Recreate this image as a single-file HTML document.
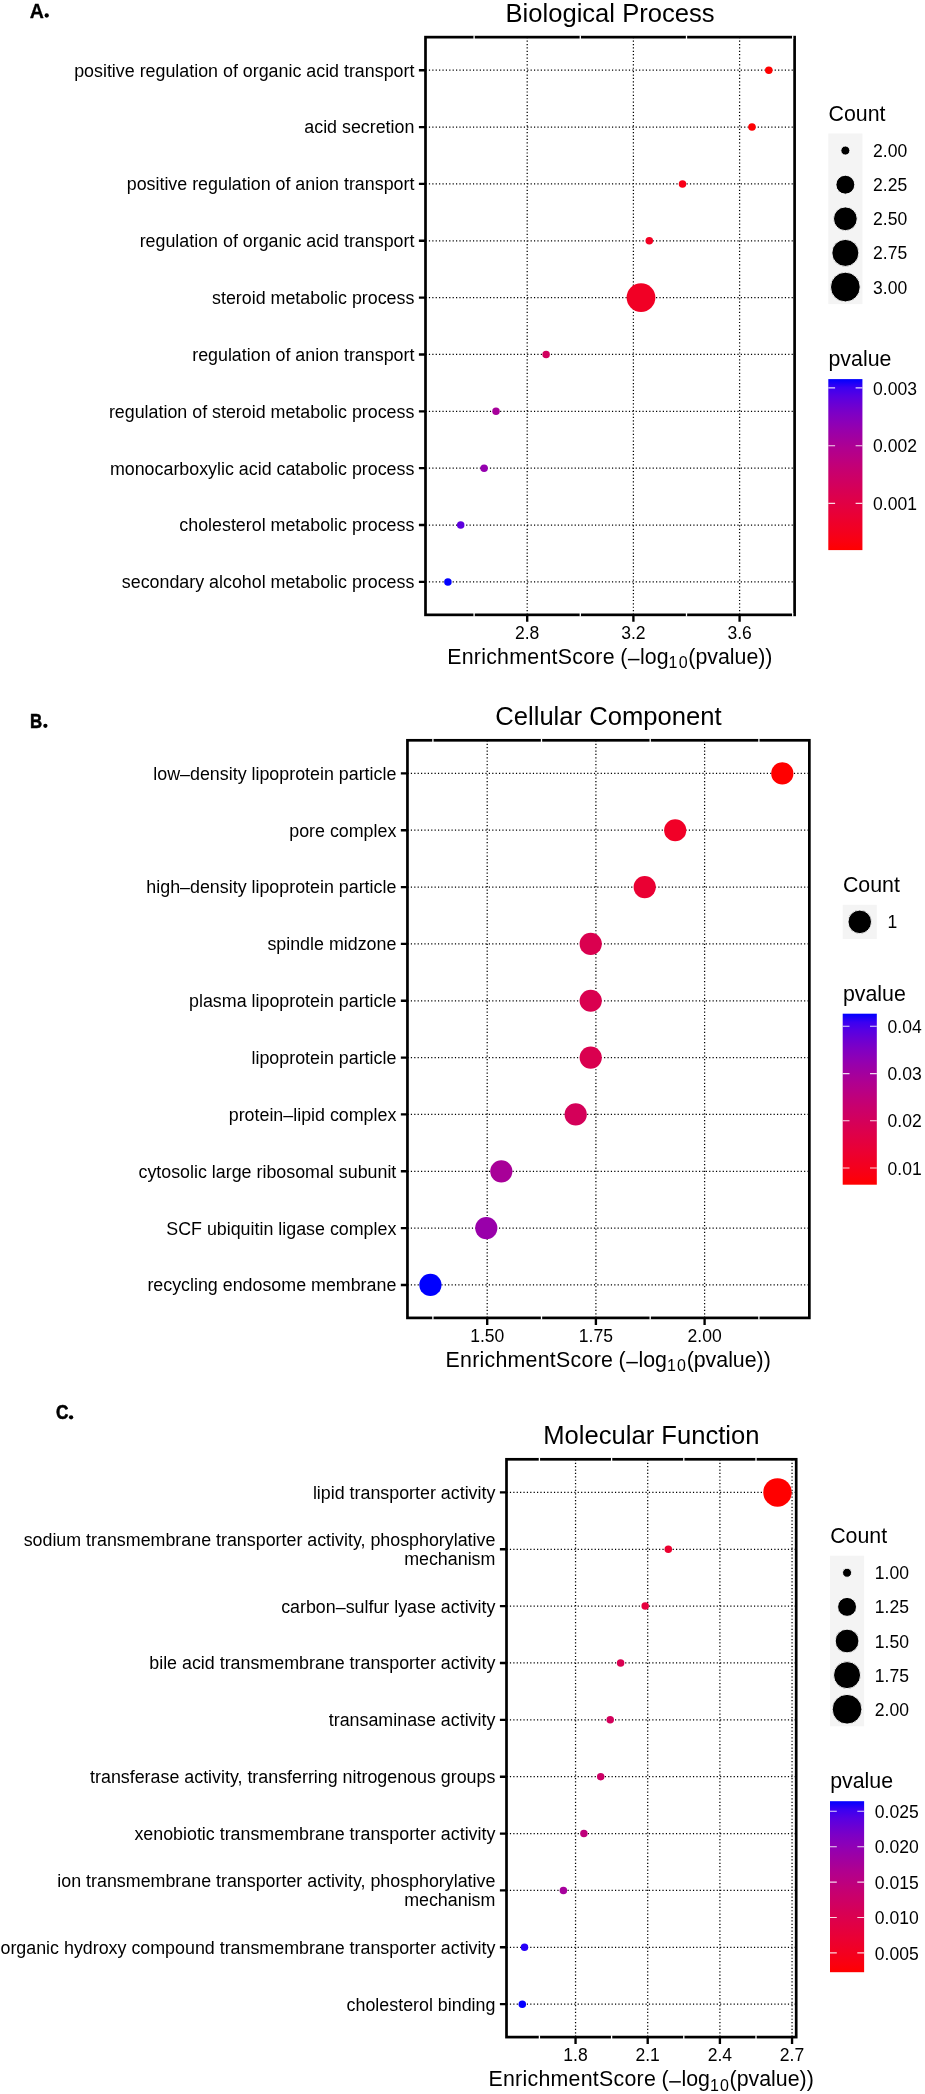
<!DOCTYPE html>
<html><head><meta charset="utf-8"><title>GO enrichment</title>
<style>
html,body{margin:0;padding:0;background:#fff;}
body{width:925px;height:2094px;overflow:hidden;font-family:"Liberation Sans",sans-serif;}
svg{display:block;will-change:transform;font-family:"Liberation Sans",sans-serif;}
text{font-family:"Liberation Sans",sans-serif;fill:#000;}
</style></head><body>
<svg width="925" height="2094" viewBox="0 0 925 2094">
<rect width="925" height="2094" fill="#fff"/>
<defs><linearGradient id="gr" x1="0" y1="0" x2="0" y2="1"><stop offset="0.000" stop-color="#0000ff"/><stop offset="0.050" stop-color="#3b00f1"/><stop offset="0.100" stop-color="#5700e2"/><stop offset="0.150" stop-color="#6b00d3"/><stop offset="0.200" stop-color="#7d00c5"/><stop offset="0.250" stop-color="#8b00b9"/><stop offset="0.300" stop-color="#9800ab"/><stop offset="0.350" stop-color="#a3009e"/><stop offset="0.400" stop-color="#af0091"/><stop offset="0.450" stop-color="#b80085"/><stop offset="0.500" stop-color="#c10078"/><stop offset="0.550" stop-color="#c9006c"/><stop offset="0.600" stop-color="#d00061"/><stop offset="0.650" stop-color="#d70055"/><stop offset="0.700" stop-color="#de004a"/><stop offset="0.750" stop-color="#e4003f"/><stop offset="0.800" stop-color="#ea0034"/><stop offset="0.850" stop-color="#ef0028"/><stop offset="0.900" stop-color="#f4001d"/><stop offset="0.950" stop-color="#fa0010"/><stop offset="1.000" stop-color="#ff0000"/></linearGradient></defs>
<path d="M425.50 70.20H794.60M425.50 127.06H794.60M425.50 183.91H794.60M425.50 240.76H794.60M425.50 297.62H794.60M425.50 354.47H794.60M425.50 411.33H794.60M425.50 468.18H794.60M425.50 525.04H794.60M425.50 581.89H794.60M527.20 37.15V614.85M633.40 37.15V614.85M739.60 37.15V614.85" stroke="#000" stroke-width="1.25" stroke-dasharray="1.2 2.19" fill="none"/>
<rect x="425.50" y="37.15" width="369.10" height="577.70" fill="none" stroke="#000" stroke-width="2.7"/>
<path d="M474.10 35.35v3.6M474.10 613.05v3.6M580.30 35.35v3.6M580.30 613.05v3.6M686.50 35.35v3.6M686.50 613.05v3.6M792.70 35.35v3.6M792.70 613.05v3.6" stroke="#fff" stroke-width="1.3" fill="none"/>
<path d="M418.90 70.20H425.50M418.90 127.06H425.50M418.90 183.91H425.50M418.90 240.76H425.50M418.90 297.62H425.50M418.90 354.47H425.50M418.90 411.33H425.50M418.90 468.18H425.50M418.90 525.04H425.50M418.90 581.89H425.50M527.20 614.85V621.85M633.40 614.85V621.85M739.60 614.85V621.85" stroke="#000" stroke-width="2.35" fill="none"/>
<text x="527.20" y="638.70" font-size="17.55" text-anchor="middle">2.8</text>
<text x="633.40" y="638.70" font-size="17.55" text-anchor="middle">3.2</text>
<text x="739.60" y="638.70" font-size="17.55" text-anchor="middle">3.6</text>
<text x="414.40" y="76.60" font-size="17.85" text-anchor="end">positive regulation of organic acid transport</text>
<text x="414.40" y="133.46" font-size="17.85" text-anchor="end">acid secretion</text>
<text x="414.40" y="190.31" font-size="17.85" text-anchor="end">positive regulation of anion transport</text>
<text x="414.40" y="247.16" font-size="17.85" text-anchor="end">regulation of organic acid transport</text>
<text x="414.40" y="304.02" font-size="17.85" text-anchor="end">steroid metabolic process</text>
<text x="414.40" y="360.87" font-size="17.85" text-anchor="end">regulation of anion transport</text>
<text x="414.40" y="417.73" font-size="17.85" text-anchor="end">regulation of steroid metabolic process</text>
<text x="414.40" y="474.58" font-size="17.85" text-anchor="end">monocarboxylic acid catabolic process</text>
<text x="414.40" y="531.44" font-size="17.85" text-anchor="end">cholesterol metabolic process</text>
<text x="414.40" y="588.29" font-size="17.85" text-anchor="end">secondary alcohol metabolic process</text>
<circle cx="768.80" cy="70.20" r="3.75" fill="#ff0000"/>
<circle cx="752.00" cy="127.06" r="3.75" fill="#fe0003"/>
<circle cx="682.50" cy="183.91" r="3.75" fill="#f80017"/>
<circle cx="649.30" cy="240.76" r="3.75" fill="#f30022"/>
<circle cx="641.00" cy="297.62" r="14.40" fill="#f10025"/>
<circle cx="546.10" cy="354.47" r="3.75" fill="#d1005e"/>
<circle cx="496.00" cy="411.33" r="3.75" fill="#a7009b"/>
<circle cx="484.10" cy="468.18" r="3.75" fill="#9500af"/>
<circle cx="460.70" cy="525.04" r="3.75" fill="#5d00de"/>
<circle cx="447.90" cy="581.89" r="3.75" fill="#0200ff"/>
<text x="610.05" y="21.95" font-size="25.6" text-anchor="middle">Biological Process</text>
<text x="614.80" y="663.75" font-size="21.33" text-anchor="end" letter-spacing="0.27">EnrichmentScore</text>
<text x="620.20" y="663.75" font-size="21.33">(</text>
<rect x="627.90" y="658.85" width="11.6" height="1.5" fill="#000"/>
<text x="640.10" y="663.75" font-size="21.33">log</text>
<text x="668.60" y="668.35" font-size="16.0" letter-spacing="1.2">10</text>
<text x="688.30" y="663.75" font-size="21.33">(pvalue))</text>
<text x="828.50" y="120.70" font-size="21.33">Count</text>
<rect x="828.30" y="133.50" width="34.12" height="170.60" fill="#f4f4f4"/>
<circle cx="845.36" cy="150.56" r="4.50" fill="#000" stroke="#fff" stroke-width="0.9"/>
<text x="873.12" y="157.06" font-size="17.55">2.00</text>
<circle cx="845.36" cy="184.68" r="9.45" fill="#000" stroke="#fff" stroke-width="0.9"/>
<text x="873.12" y="191.18" font-size="17.55">2.25</text>
<circle cx="845.36" cy="218.80" r="11.85" fill="#000" stroke="#fff" stroke-width="0.9"/>
<text x="873.12" y="225.30" font-size="17.55">2.50</text>
<circle cx="845.36" cy="252.92" r="13.50" fill="#000" stroke="#fff" stroke-width="0.9"/>
<text x="873.12" y="259.42" font-size="17.55">2.75</text>
<circle cx="845.36" cy="287.04" r="14.85" fill="#000" stroke="#fff" stroke-width="0.9"/>
<text x="873.12" y="293.54" font-size="17.55">3.00</text>
<text x="828.50" y="365.90" font-size="21.33">pvalue</text>
<rect x="828.30" y="379.10" width="34.12" height="171.00" fill="url(#gr)"/>
<text x="873.12" y="394.50" font-size="17.55">0.003</text>
<text x="873.12" y="452.40" font-size="17.55">0.002</text>
<text x="873.12" y="510.00" font-size="17.55">0.001</text>
<path d="M828.30 387.90h6.8M855.62 387.90h6.8M828.30 445.80h6.8M855.62 445.80h6.8M828.30 503.40h6.8M855.62 503.40h6.8" stroke="#fff" stroke-opacity="0.85" stroke-width="1.1" fill="none"/>
<path d="M407.45 773.40H809.35M407.45 830.24H809.35M407.45 887.08H809.35M407.45 943.92H809.35M407.45 1000.76H809.35M407.45 1057.60H809.35M407.45 1114.44H809.35M407.45 1171.28H809.35M407.45 1228.12H809.35M407.45 1284.96H809.35M487.20 740.30V1317.90M595.90 740.30V1317.90M704.60 740.30V1317.90" stroke="#000" stroke-width="1.25" stroke-dasharray="1.2 2.19" fill="none"/>
<rect x="407.45" y="740.30" width="401.90" height="577.60" fill="none" stroke="#000" stroke-width="2.7"/>
<path d="M432.90 738.50v3.6M432.90 1316.10v3.6M541.50 738.50v3.6M541.50 1316.10v3.6M650.20 738.50v3.6M650.20 1316.10v3.6M758.90 738.50v3.6M758.90 1316.10v3.6" stroke="#fff" stroke-width="1.3" fill="none"/>
<path d="M400.85 773.40H407.45M400.85 830.24H407.45M400.85 887.08H407.45M400.85 943.92H407.45M400.85 1000.76H407.45M400.85 1057.60H407.45M400.85 1114.44H407.45M400.85 1171.28H407.45M400.85 1228.12H407.45M400.85 1284.96H407.45M487.20 1317.90V1324.90M595.90 1317.90V1324.90M704.60 1317.90V1324.90" stroke="#000" stroke-width="2.35" fill="none"/>
<text x="487.20" y="1341.75" font-size="17.55" text-anchor="middle">1.50</text>
<text x="595.90" y="1341.75" font-size="17.55" text-anchor="middle">1.75</text>
<text x="704.60" y="1341.75" font-size="17.55" text-anchor="middle">2.00</text>
<text x="396.35" y="779.80" font-size="17.85" text-anchor="end">low–density lipoprotein particle</text>
<text x="396.35" y="836.64" font-size="17.85" text-anchor="end">pore complex</text>
<text x="396.35" y="893.48" font-size="17.85" text-anchor="end">high–density lipoprotein particle</text>
<text x="396.35" y="950.32" font-size="17.85" text-anchor="end">spindle midzone</text>
<text x="396.35" y="1007.16" font-size="17.85" text-anchor="end">plasma lipoprotein particle</text>
<text x="396.35" y="1064.00" font-size="17.85" text-anchor="end">lipoprotein particle</text>
<text x="396.35" y="1120.84" font-size="17.85" text-anchor="end">protein–lipid complex</text>
<text x="396.35" y="1177.68" font-size="17.85" text-anchor="end">cytosolic large ribosomal subunit</text>
<text x="396.35" y="1234.52" font-size="17.85" text-anchor="end">SCF ubiquitin ligase complex</text>
<text x="396.35" y="1291.36" font-size="17.85" text-anchor="end">recycling endosome membrane</text>
<circle cx="782.30" cy="773.40" r="11.10" fill="#ff0000"/>
<circle cx="675.20" cy="830.24" r="11.10" fill="#f10027"/>
<circle cx="644.70" cy="887.08" r="11.10" fill="#ea0033"/>
<circle cx="590.70" cy="943.92" r="11.10" fill="#da004f"/>
<circle cx="590.70" cy="1000.76" r="11.10" fill="#da004f"/>
<circle cx="590.70" cy="1057.60" r="11.10" fill="#da004f"/>
<circle cx="575.70" cy="1114.44" r="11.10" fill="#d40059"/>
<circle cx="501.30" cy="1171.28" r="11.10" fill="#a80098"/>
<circle cx="486.30" cy="1228.12" r="11.10" fill="#9900aa"/>
<circle cx="430.40" cy="1284.96" r="11.10" fill="#0000ff"/>
<text x="608.40" y="725.10" font-size="25.6" text-anchor="middle">Cellular Component</text>
<text x="613.15" y="1366.80" font-size="21.33" text-anchor="end" letter-spacing="0.27">EnrichmentScore</text>
<text x="618.55" y="1366.80" font-size="21.33">(</text>
<rect x="626.25" y="1361.90" width="11.6" height="1.5" fill="#000"/>
<text x="638.45" y="1366.80" font-size="21.33">log</text>
<text x="666.95" y="1371.40" font-size="16.0" letter-spacing="1.2">10</text>
<text x="686.65" y="1366.80" font-size="21.33">(pvalue))</text>
<text x="842.90" y="892.00" font-size="21.33">Count</text>
<rect x="842.70" y="904.80" width="34.12" height="34.12" fill="#f4f4f4"/>
<circle cx="859.76" cy="921.86" r="11.75" fill="#000" stroke="#fff" stroke-width="0.9"/>
<text x="887.52" y="928.36" font-size="17.55">1</text>
<text x="842.90" y="1000.50" font-size="21.33">pvalue</text>
<rect x="842.70" y="1013.70" width="34.12" height="171.00" fill="url(#gr)"/>
<text x="887.52" y="1032.90" font-size="17.55">0.04</text>
<text x="887.52" y="1080.20" font-size="17.55">0.03</text>
<text x="887.52" y="1127.40" font-size="17.55">0.02</text>
<text x="887.52" y="1174.60" font-size="17.55">0.01</text>
<path d="M842.70 1026.30h6.8M870.02 1026.30h6.8M842.70 1073.60h6.8M870.02 1073.60h6.8M842.70 1120.80h6.8M870.02 1120.80h6.8M842.70 1168.00h6.8M870.02 1168.00h6.8" stroke="#fff" stroke-opacity="0.85" stroke-width="1.1" fill="none"/>
<path d="M506.50 1492.40H796.20M506.50 1549.26H796.20M506.50 1606.12H796.20M506.50 1662.98H796.20M506.50 1719.84H796.20M506.50 1776.70H796.20M506.50 1833.56H796.20M506.50 1890.42H796.20M506.50 1947.28H796.20M506.50 2004.14H796.20M575.55 1459.30V2037.10M647.70 1459.30V2037.10M719.90 1459.30V2037.10M792.05 1459.30V2037.10" stroke="#000" stroke-width="1.25" stroke-dasharray="1.2 2.19" fill="none"/>
<rect x="506.50" y="1459.30" width="289.70" height="577.80" fill="none" stroke="#000" stroke-width="2.7"/>
<path d="M539.40 1457.50v3.6M539.40 2035.30v3.6M611.60 1457.50v3.6M611.60 2035.30v3.6M683.80 1457.50v3.6M683.80 2035.30v3.6M756.00 1457.50v3.6M756.00 2035.30v3.6" stroke="#fff" stroke-width="1.3" fill="none"/>
<path d="M499.90 1492.40H506.50M499.90 1549.26H506.50M499.90 1606.12H506.50M499.90 1662.98H506.50M499.90 1719.84H506.50M499.90 1776.70H506.50M499.90 1833.56H506.50M499.90 1890.42H506.50M499.90 1947.28H506.50M499.90 2004.14H506.50M575.55 2037.10V2044.10M647.70 2037.10V2044.10M719.90 2037.10V2044.10M792.05 2037.10V2044.10" stroke="#000" stroke-width="2.35" fill="none"/>
<text x="575.55" y="2060.95" font-size="17.55" text-anchor="middle">1.8</text>
<text x="647.70" y="2060.95" font-size="17.55" text-anchor="middle">2.1</text>
<text x="719.90" y="2060.95" font-size="17.55" text-anchor="middle">2.4</text>
<text x="792.05" y="2060.95" font-size="17.55" text-anchor="middle">2.7</text>
<text x="495.40" y="1498.80" font-size="17.85" text-anchor="end">lipid transporter activity</text>
<text x="495.40" y="1545.76" font-size="17.85" text-anchor="end">sodium transmembrane transporter activity, phosphorylative</text>
<text x="495.40" y="1565.06" font-size="17.85" text-anchor="end">mechanism</text>
<text x="495.40" y="1612.52" font-size="17.85" text-anchor="end">carbon–sulfur lyase activity</text>
<text x="495.40" y="1669.38" font-size="17.85" text-anchor="end">bile acid transmembrane transporter activity</text>
<text x="495.40" y="1726.24" font-size="17.85" text-anchor="end">transaminase activity</text>
<text x="495.40" y="1783.10" font-size="17.85" text-anchor="end">transferase activity, transferring nitrogenous groups</text>
<text x="495.40" y="1839.96" font-size="17.85" text-anchor="end">xenobiotic transmembrane transporter activity</text>
<text x="495.40" y="1886.92" font-size="17.85" text-anchor="end">ion transmembrane transporter activity, phosphorylative</text>
<text x="495.40" y="1906.22" font-size="17.85" text-anchor="end">mechanism</text>
<text x="495.40" y="1953.68" font-size="17.85" text-anchor="end">organic hydroxy compound transmembrane transporter activity</text>
<text x="495.40" y="2010.54" font-size="17.85" text-anchor="end">cholesterol binding</text>
<circle cx="777.50" cy="1492.40" r="14.25" fill="#ff0000"/>
<circle cx="668.30" cy="1549.26" r="3.75" fill="#ec002f"/>
<circle cx="645.20" cy="1606.12" r="3.75" fill="#e5003e"/>
<circle cx="620.60" cy="1662.98" r="3.75" fill="#d90051"/>
<circle cx="610.20" cy="1719.84" r="3.75" fill="#d3005b"/>
<circle cx="600.70" cy="1776.70" r="3.75" fill="#cc0065"/>
<circle cx="583.90" cy="1833.56" r="3.75" fill="#bf007b"/>
<circle cx="563.40" cy="1890.42" r="3.75" fill="#a6009c"/>
<circle cx="524.50" cy="1947.28" r="3.75" fill="#2700f8"/>
<circle cx="522.30" cy="2004.14" r="3.75" fill="#0500ff"/>
<text x="651.35" y="1444.10" font-size="25.6" text-anchor="middle">Molecular Function</text>
<text x="656.10" y="2086.00" font-size="21.33" text-anchor="end" letter-spacing="0.27">EnrichmentScore</text>
<text x="661.50" y="2086.00" font-size="21.33">(</text>
<rect x="669.20" y="2081.10" width="11.6" height="1.5" fill="#000"/>
<text x="681.40" y="2086.00" font-size="21.33">log</text>
<text x="709.90" y="2090.60" font-size="16.0" letter-spacing="1.2">10</text>
<text x="729.60" y="2086.00" font-size="21.33">(pvalue))</text>
<text x="830.20" y="1542.90" font-size="21.33">Count</text>
<rect x="830.00" y="1555.70" width="34.12" height="170.60" fill="#f4f4f4"/>
<circle cx="847.06" cy="1572.76" r="4.50" fill="#000" stroke="#fff" stroke-width="0.9"/>
<text x="874.82" y="1579.26" font-size="17.55">1.00</text>
<circle cx="847.06" cy="1606.88" r="9.45" fill="#000" stroke="#fff" stroke-width="0.9"/>
<text x="874.82" y="1613.38" font-size="17.55">1.25</text>
<circle cx="847.06" cy="1641.00" r="11.85" fill="#000" stroke="#fff" stroke-width="0.9"/>
<text x="874.82" y="1647.50" font-size="17.55">1.50</text>
<circle cx="847.06" cy="1675.12" r="13.50" fill="#000" stroke="#fff" stroke-width="0.9"/>
<text x="874.82" y="1681.62" font-size="17.55">1.75</text>
<circle cx="847.06" cy="1709.24" r="14.85" fill="#000" stroke="#fff" stroke-width="0.9"/>
<text x="874.82" y="1715.74" font-size="17.55">2.00</text>
<text x="830.20" y="1788.00" font-size="21.33">pvalue</text>
<rect x="830.00" y="1801.20" width="34.12" height="171.00" fill="url(#gr)"/>
<text x="874.82" y="1817.90" font-size="17.55">0.025</text>
<text x="874.82" y="1853.30" font-size="17.55">0.020</text>
<text x="874.82" y="1888.70" font-size="17.55">0.015</text>
<text x="874.82" y="1924.10" font-size="17.55">0.010</text>
<text x="874.82" y="1959.50" font-size="17.55">0.005</text>
<path d="M830.00 1811.30h6.8M857.32 1811.30h6.8M830.00 1846.70h6.8M857.32 1846.70h6.8M830.00 1882.10h6.8M857.32 1882.10h6.8M830.00 1917.50h6.8M857.32 1917.50h6.8M830.00 1952.90h6.8M857.32 1952.90h6.8" stroke="#fff" stroke-opacity="0.85" stroke-width="1.1" fill="none"/>
<text transform="translate(29.7,17.6) scale(0.955,1)" font-size="20.5" font-weight="bold" stroke="#000" stroke-width="0.3" stroke-linejoin="round">A</text>
<circle cx="46.7" cy="15.5" r="2.15" fill="#000"/>
<text transform="translate(29.9,727.8) scale(0.8,1)" font-size="21.0" font-weight="bold" stroke="#000" stroke-width="0.6" stroke-linejoin="round">B</text>
<circle cx="45.4" cy="725.8" r="2.15" fill="#000"/>
<text transform="translate(56.1,1419.2) scale(0.82,1)" font-size="21.0" font-weight="bold" stroke="#000" stroke-width="0.6" stroke-linejoin="round">C</text>
<circle cx="71.1" cy="1417.3" r="2.15" fill="#000"/>
</svg>
</body></html>
